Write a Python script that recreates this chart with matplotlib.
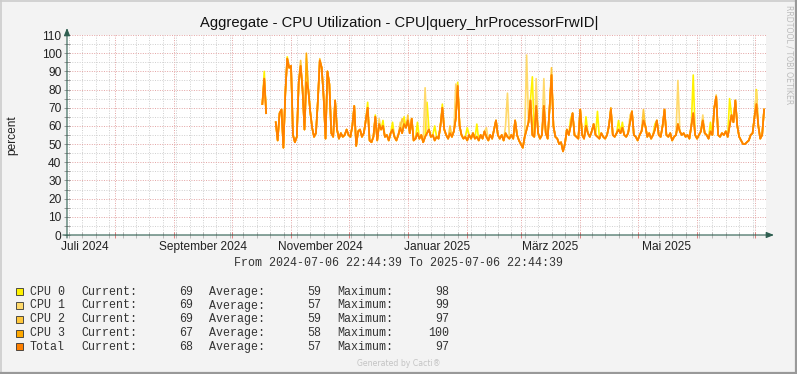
import datetime as dt

import matplotlib
matplotlib.use("Agg")
import matplotlib.pyplot as plt
import matplotlib.dates as mdates
from matplotlib.ticker import MultipleLocator
import numpy as np

# time range of the graph
start = dt.datetime(2024, 7, 6, 22, 44, 39)
end = dt.datetime(2025, 7, 6, 22, 44, 39)

# daily samples, first one is day 102 after start (nan = no data)
first_day = 102
total = [72, 86, 67, np.nan, np.nan, np.nan, np.nan, 62, 52, 67,
         69, 48, 78, 97, 92, 93, 55, 51, 54, 84,
         93, 80, 58, 84, 80, 68, 59, 54, 56, 74,
         96, 92, 76, 53, 90, 83, 56, 54, 74, 58,
         53, 56, 54, 55, 58, 55, 54, 60, 71, 49,
         57, 58, 54, 56, 63, 70, 52, 51, 54, 65,
         52, 61, 58, 60, 54, 55, 52, 56, 58, 54,
         52, 55, 59, 56, 61, 59, 63, 56, 64, 52,
         53, 56, 53, 55, 51, 54, 56, 58, 54, 55,
         52, 54, 53, 60, 70, 58, 55, 53, 56, 54,
         57, 64, 82, 60, 55, 53, 54, 52, 55, 53,
         56, 53, 54, 52, 55, 53, 57, 54, 52, 55,
         53, 58, 63, 55, 53, 55, 52, 56, 54, 53,
         55, 53, 63, 55, 52, 50, 48, 54, 58, 62,
         74, 55, 54, 71, 56, 53, 55, 71, 56, 53,
         70, 88, 60, 54, 53, 50, 51, 46, 50, 58,
         55, 60, 67, 55, 54, 53, 69, 55, 53, 60,
         56, 54, 57, 61, 55, 54, 53, 56, 54, 53,
         55, 60, 69, 55, 54, 56, 58, 56, 59, 55,
         54, 56, 62, 68, 55, 54, 52, 55, 57, 63,
         60, 54, 56, 53, 55, 58, 63, 55, 54, 60,
         69, 55, 54, 56, 52, 54, 55, 61, 57, 55,
         56, 54, 55, 53, 60, 67, 55, 53, 55, 57,
         63, 56, 55, 53, 57, 55, 70, 76, 55, 54,
         56, 55, 57, 54, 60, 66, 62, 74, 60, 54,
         52, 50, 50, 51, 52, 55, 56, 65, 72, 60,
         53, 55, 69]

# day -> value where a single cpu line leaves the total line
cpu0_peaks = {103: 90, 115: 98, 157: 73, 161: 66, 165: 63, 170: 62, 176: 65,
              183: 62, 188: 73, 192: 60, 196: 72, 204: 84, 209: 59, 214: 61,
              243: 87, 263: 64, 271: 65, 277: 68, 288: 63, 290: 62, 307: 61,
              327: 88, 336: 62, 346: 75, 360: 80}
cpu1_peaks = {125: 97, 163: 64, 174: 62, 187: 81, 203: 83, 219: 59, 229: 60,
              230: 78, 240: 99, 245: 86, 249: 86, 294: 66, 319: 85, 332: 66,
              360: 79}
cpu2_peaks = {122: 96, 132: 97, 175: 64, 178: 66, 200: 60, 253: 92, 301: 69,
              339: 77}
cpu3_peaks = {125: 100, 136: 90, 196: 70, 284: 70}

names = ["CPU 0", "CPU 1", "CPU 2", "CPU 3", "Total"]
current = [69, 69, 69, 67, 68]
average = [59, 57, 59, 58, 57]
maximum = [98, 99, 97, 100, 97]
colors = ["#FFF200", "#FFD96B", "#FFC73B", "#FFA800", "#FF8000"]

month_labels = ["Juli 2024", "September 2024", "November 2024",
                "Januar 2025", "März 2025", "Mai 2025"]
label_months = [(2024, 7), (2024, 9), (2024, 11), (2025, 1), (2025, 3), (2025, 5)]

W, H = 797, 374
fig = plt.figure(figsize=(W / 100, H / 100), dpi=100, facecolor="#F3F3F3")
ax = fig.add_axes([67 / W, 139 / H, 699 / W, 200 / H])
ax.set_facecolor("white")
for s in ax.spines.values():
    s.set_visible(False)

days = [first_day + i for i in range(len(total))]
t = mdates.date2num([start + dt.timedelta(days=d) for d in days])


def series(peaks):
    vals = list(total)
    for d, v in peaks.items():
        vals[d - first_day] = v
    return vals


for peaks, c in zip([cpu0_peaks, cpu1_peaks, cpu2_peaks, cpu3_peaks], colors[:4]):
    ax.plot(t, series(peaks), color=c, lw=1.2, zorder=3)
ax.plot(t, total, color=colors[4], lw=1.2, zorder=4)

ax.set_xlim(mdates.date2num(start), mdates.date2num(end))
ax.set_ylim(0, 110)

# grid like rrdtool
ax.xaxis.set_major_locator(mdates.MonthLocator())
ax.xaxis.set_minor_locator(mdates.WeekdayLocator(byweekday=mdates.MO))
ax.yaxis.set_major_locator(MultipleLocator(10))
ax.yaxis.set_minor_locator(MultipleLocator(5))
ax.grid(which="major", color="#E3A3A3", ls=(0, (1, 1.5)), lw=0.7, zorder=1)
ax.grid(which="minor", color="#CFCFCF", ls=(0, (1, 1.5)), lw=0.7, zorder=1)
ax.set_xticklabels([])
ax.tick_params(axis="x", which="major", length=4, direction="inout", color="#E08080", width=0.7)
ax.tick_params(axis="x", which="minor", length=4, direction="inout", color="#BBBBBB", width=0.7)
ax.tick_params(axis="y", which="both", length=4, direction="inout", color="#999999", width=0.7,
               labelsize=8.6, labelcolor="#222222", pad=2)
for lab in ax.get_yticklabels():
    lab.set_fontfamily("Liberation Sans")

for (yy, mm), txt in zip(label_months, month_labels):
    xpos = mdates.date2num(dt.datetime(yy, mm, 1) + dt.timedelta(days=15))
    ax.text(xpos, -3.5, txt, ha="center", va="top", fontsize=8.6,
            family="Liberation Sans", color="#222222")

# axes with arrows
axis_col = "#2E5E50"
ax.annotate("", xy=(1.0114, 0), xytext=(-0.006, 0), xycoords="axes fraction",
            arrowprops=dict(arrowstyle="-|>,head_length=0.45,head_width=0.18",
                            color=axis_col, lw=0.8, shrinkA=0, shrinkB=0),
            annotation_clip=False, zorder=6)
ax.annotate("", xy=(0, 1.035), xytext=(0, -0.015), xycoords="axes fraction",
            arrowprops=dict(arrowstyle="-|>,head_length=0.45,head_width=0.18",
                            color=axis_col, lw=0.8, shrinkA=0, shrinkB=0),
            annotation_clip=False, zorder=6)

fig.text(12 / W, 1 - 135 / H, "percent", rotation=90, ha="center", va="center",
         fontsize=8.6, family="Liberation Sans", color="#222222")

fig.text(399 / W, 1 - 23 / H, "Aggregate - CPU Utilization - CPU|query_hrProcessorFrwID|",
         ha="center", va="center", fontsize=10.6, family="Liberation Sans", color="#111111")
fig.text(789 / W, 1 - 5 / H, "RRDTOOL / TOBI OETIKER", rotation=-90, ha="center", va="top",
         fontsize=5.6, family="DejaVu Sans", color="#BBBBBB")
fig.text(399 / W, 1 - 263 / H, "From 2024-07-06 22:44:39 To 2025-07-06 22:44:39",
         ha="center", va="center", fontsize=8.4, family="Liberation Mono", color="#333333")

row_y = [291.7, 305.5, 319.2, 333.0, 346.7]
for i, y in enumerate(row_y):
    yf = 1 - y / H
    fig.patches.append(plt.Rectangle((15.5 / W, 1 - (y + 3.5) / H), 7 / W, 7 / H,
                                     transform=fig.transFigure, facecolor=colors[i],
                                     edgecolor="#333333", lw=0.6))
    kw = dict(va="center", fontsize=8.4, family="Liberation Mono", color="#333333")
    fig.text(30 / W, yf, names[i], ha="left", **kw)
    fig.text(81 / W, yf, "Current:", ha="left", **kw)
    fig.text(193 / W, yf, str(current[i]), ha="right", **kw)
    fig.text(209 / W, yf, "Average:", ha="left", **kw)
    fig.text(321 / W, yf, str(average[i]), ha="right", **kw)
    fig.text(337 / W, yf, "Maximum:", ha="left", **kw)
    fig.text(449 / W, yf, str(maximum[i]), ha="right", **kw)

fig.text(399 / W, 1 - 363 / H, "Generated by Cacti®", ha="center", va="center",
         fontsize=5.6, family="DejaVu Sans", color="#C4C4C4")

# 3d-ish frame round the canvas
fig.add_artist(plt.Line2D([0.5 / W, 0.5 / W], [0, 1], color="#CCCCCC", lw=1.2))
fig.add_artist(plt.Line2D([0, 1], [1 - 0.5 / H, 1 - 0.5 / H], color="#CCCCCC", lw=1.2))
fig.add_artist(plt.Line2D([1 - 1 / W, 1 - 1 / W], [0, 1], color="#999999", lw=1.6))
fig.add_artist(plt.Line2D([0, 1], [1 / H, 1 / H], color="#999999", lw=1.6))

fig.savefig("out.png", dpi=100, facecolor=fig.get_facecolor())
